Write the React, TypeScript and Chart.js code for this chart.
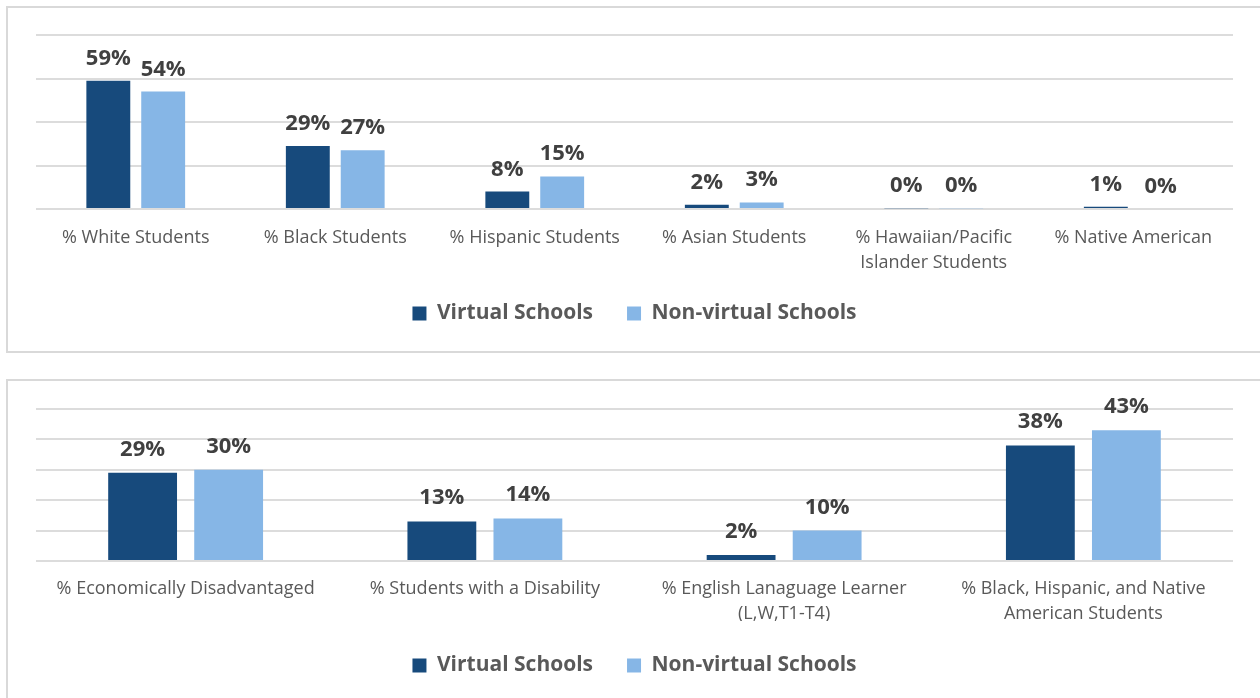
import React, { useEffect, useRef } from "react";
import { Chart, registerables } from "chart.js";

Chart.register(...registerables);

// ---- Data ----
const seriesNames = ["Virtual Schools", "Non-virtual Schools"];

const topCategories: (string | string[])[] = [
  "% White Students",
  "% Black Students",
  "% Hispanic Students",
  "% Asian Students",
  ["% Hawaiian/Pacific", "Islander Students"],
  "% Native American",
];
const topVirtual = [59, 29, 8, 2, 0.4, 1];
const topNonVirtual = [54, 27, 15, 3, 0.4, 0];
const topAxisMax = 80;
const topAxisStep = 20;

const bottomCategories: (string | string[])[] = [
  "% Economically Disadvantaged",
  "% Students with a Disability",
  ["% English Lanaguage Learner", "(L,W,T1-T4)"],
  ["% Black, Hispanic, and Native", "American Students"],
];
const bottomVirtual = [29, 13, 2, 38];
const bottomNonVirtual = [30, 14, 10, 43];
const bottomAxisMax = 50;
const bottomAxisStep = 10;

// ---- Styles ----
const DARK = "#174A7C";
const LIGHT = "#86B6E6";
const GRID = "#dcdcdc";
const FONT = '"Open Sans", "Noto Sans", sans-serif';

const valueLabels = {
  id: "valueLabels",
  afterDatasetsDraw(chart: any, _args: any, opts: any) {
    const ctx = chart.ctx;
    ctx.save();
    ctx.font = `bold 22px ${FONT}`;
    ctx.fillStyle = "#404040";
    ctx.textAlign = "center";
    ctx.textBaseline = "alphabetic";
    chart.data.datasets.forEach((ds: any, i: number) => {
      const meta = chart.getDatasetMeta(i);
      meta.data.forEach((el: any, j: number) => {
        ctx.fillText(Math.round(ds.data[j]) + "%", el.x, el.y - (opts.offset || 16));
      });
    });
    ctx.restore();
  },
};

function makeConfig(
  labels: (string | string[])[],
  v: number[],
  nv: number[],
  max: number,
  step: number,
  catPct: number,
  pad: { top: number; bottom: number },
  xHeight: number,
  labelOffset: number,
  tickPad: number
): any {
  return {
    type: "bar",
    data: {
      labels,
      datasets: [
        {
          label: seriesNames[0],
          data: v,
          backgroundColor: DARK,
          categoryPercentage: catPct,
          barPercentage: 0.8,
        },
        {
          label: seriesNames[1],
          data: nv,
          backgroundColor: LIGHT,
          categoryPercentage: catPct,
          barPercentage: 0.8,
        },
      ],
    },
    options: {
      responsive: false,
      animation: false,
      layout: { padding: { left: 36, right: 27, top: pad.top, bottom: pad.bottom } },
      plugins: {
        legend: {
          position: "bottom",
          labels: {
            boxWidth: 14,
            boxHeight: 14,
            padding: 34,
            color: "#595959",
            font: { family: FONT, size: 21, weight: "bold" },
          },
        },
        tooltip: { enabled: false },
        valueLabels: { offset: labelOffset },
      },
      scales: {
        x: {
          grid: { display: false, drawTicks: false },
          border: { display: false },
          ticks: {
            padding: tickPad,
            color: "#595959",
            font: { family: FONT, size: 18, lineHeight: 1.36 },
            maxRotation: 0,
            autoSkip: false,
          },
          afterFit(scale: any) {
            scale.height = xHeight;
          },
        },
        y: {
          min: 0,
          max,
          ticks: { display: false, stepSize: step },
          grid: { color: GRID, lineWidth: 2, drawTicks: false },
          border: { display: false },
          afterFit(scale: any) {
            scale.width = 0;
          },
        },
      },
    },
    plugins: [valueLabels],
  };
}

function ChartCanvas({ config, top, height }: { config: any; top: number; height: number }) {
  const ref = useRef<HTMLCanvasElement | null>(null);
  useEffect(() => {
    if (!ref.current) return;
    const chart = new Chart(ref.current, config);
    return () => chart.destroy();
  }, [config]);
  return (
    <canvas
      ref={ref}
      width={1260}
      height={height}
      style={{ position: "absolute", left: 0, top, width: 1260, height }}
    />
  );
}

const topConfig = makeConfig(
  topCategories,
  topVirtual,
  topNonVirtual,
  topAxisMax,
  topAxisStep,
  0.55,
  { top: 35, bottom: 18 },
  60,
  16,
  17
);
const bottomConfig = makeConfig(
  bottomCategories,
  bottomVirtual,
  bottomNonVirtual,
  bottomAxisMax,
  bottomAxisStep,
  0.575,
  { top: 30, bottom: 12 },
  60,
  17,
  16
);

export default function App() {
  return (
    <div
      style={{
        position: "absolute",
        left: 0,
        top: 0,
        width: 1260,
        height: 698,
        overflow: "hidden",
        background: "#ffffff",
      }}
    >
      <div
        style={{
          position: "absolute",
          left: 6,
          top: 6,
          width: 1270,
          height: 347,
          border: "2px solid #d9d9d9",
          boxSizing: "border-box",
        }}
      />
      <div
        style={{
          position: "absolute",
          left: 6,
          top: 379,
          width: 1270,
          height: 340,
          border: "2px solid #d9d9d9",
          boxSizing: "border-box",
        }}
      />
      <ChartCanvas config={topConfig} top={0} height={352} />
      <ChartCanvas config={bottomConfig} top={379} height={319} />
    </div>
  );
}
